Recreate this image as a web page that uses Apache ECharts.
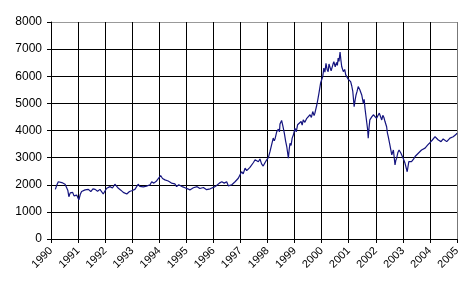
<!DOCTYPE html>
<html>
<head>
<meta charset="utf-8">
<script src="https://cdn.jsdelivr.net/npm/echarts@6/dist/echarts.min.js"></script>
<style>
html,body{margin:0;padding:0;background:#fff;}
#c{width:471px;height:292px;}
</style>
</head>
<body>
<div id="c"></div>
<script>
// Decimal years of the sampled points
const years = [
 1990.16,1990.22,1990.27,1990.33,1990.40,1990.46,1990.52,1990.58,1990.62,1990.66,1990.71,1990.76,1990.80,1990.85,1990.90,1990.95,
 1991.03,1991.08,1991.13,1991.20,1991.26,1991.32,1991.38,1991.47,1991.55,1991.63,1991.72,1991.81,1991.87,1991.93,
 1992.00,1992.06,1992.12,1992.18,1992.27,1992.36,1992.43,1992.49,1992.58,1992.67,1992.74,1992.80,1992.90,1992.98,
 1993.04,1993.10,1993.16,1993.22,1993.28,1993.35,1993.41,1993.47,1993.53,1993.59,1993.66,1993.72,1993.80,1993.90,1993.97,
 1994.05,1994.12,1994.17,1994.21,1994.27,1994.33,1994.40,1994.45,1994.52,1994.58,1994.64,1994.72,1994.79,1994.87,1994.95,
 1995.05,1995.13,1995.20,1995.26,1995.33,1995.40,1995.45,1995.50,1995.57,1995.63,1995.69,1995.75,1995.81,1995.88,1995.94,
 1996.04,1996.12,1996.17,1996.22,1996.31,1996.36,1996.40,1996.45,1996.49,1996.55,1996.62,1996.68,1996.74,1996.80,1996.86,1996.92,1996.98,
 1997.04,1997.10,1997.17,1997.23,1997.29,1997.35,1997.41,1997.48,1997.54,1997.60,1997.66,1997.72,1997.78,1997.84,1997.90,1997.97,
 1998.03,1998.09,1998.15,1998.21,1998.25,1998.28,1998.34,1998.40,1998.44,1998.46,1998.52,1998.57,1998.62,1998.67,1998.71,1998.77,1998.80,1998.83,1998.87,1998.91,1998.96,
 1999.01,1999.06,1999.11,1999.16,1999.24,1999.28,1999.32,1999.38,1999.45,1999.50,1999.57,1999.62,1999.67,1999.72,1999.75,1999.82,1999.86,1999.90,1999.96,
 2000.04,2000.08,2000.12,2000.16,2000.20,2000.24,2000.27,2000.31,2000.35,2000.39,2000.42,2000.45,2000.50,2000.55,2000.58,2000.61,2000.64,2000.68,2000.71,2000.74,2000.80,2000.85,2000.89,2000.94,2000.98,
 2001.03,2001.07,2001.11,2001.15,2001.20,2001.24,2001.27,2001.31,2001.35,2001.41,2001.48,2001.54,2001.57,2001.60,2001.66,2001.70,2001.72,2001.75,2001.78,2001.85,2001.91,2001.97,
 2002.03,2002.08,2002.13,2002.18,2002.22,2002.26,2002.30,2002.34,2002.40,2002.43,2002.46,2002.52,2002.56,2002.59,2002.65,2002.71,2002.74,2002.77,2002.82,2002.86,2002.93,2002.97,
 2003.01,2003.08,2003.12,2003.16,2003.22,2003.27,2003.32,2003.40,2003.45,2003.51,2003.57,2003.63,2003.69,2003.76,2003.82,2003.88,2003.92,
 2004.00,2004.09,2004.14,2004.19,2004.25,2004.31,2004.36,2004.41,2004.49,2004.55,2004.62,2004.68,2004.74,2004.80,2004.86,2004.92,2004.96,2005.00
];
// Index values
const values = [
 1830,2000,2110,2040,2080,2030,2020,2000,1800,1560,1700,1650,1720,1590,1650,1620,
 1440,1640,1750,1700,1810,1780,1830,1750,1850,1830,1760,1830,1780,1660,
 1780,1870,1850,1930,1880,2020,1960,1870,1800,1720,1760,1660,1750,1780,
 1740,1830,1900,2020,1940,1970,1920,1890,1950,2020,2000,2110,2060,2140,2200,
 2340,2230,2260,2180,2200,2140,2100,2060,2020,2030,1930,2000,1970,1920,1890,
 1850,1810,1870,1890,1920,1930,1880,1860,1890,1900,1850,1820,1780,1850,1890,
 1920,1970,2040,2060,2110,2080,2060,2090,2110,1960,1990,2000,2060,2110,2180,2240,2300,
 2480,2400,2610,2520,2550,2640,2690,2820,2920,2880,2850,2950,2770,2690,2800,2920,
 3000,3220,3150,3720,3620,3700,3960,4050,3950,4240,4370,4150,3900,3600,3410,2980,3300,3530,3450,3720,3850,
 4080,3950,4210,4150,4330,4200,4390,4300,4450,4380,4580,4480,4700,4550,4640,4940,5150,5380,5750,
 5990,6300,6150,6480,6250,6170,6450,6460,6200,6170,6450,6540,6350,6510,6400,6670,6550,6890,6600,6360,6170,6250,6050,6100,5890,
 5950,5800,5650,5440,4880,5150,5310,5450,5620,5500,5310,5000,5150,4820,4760,4020,3720,4100,4390,4500,4580,4620,
 4450,4550,4640,4500,4390,4560,4480,4330,4140,3900,3770,3470,3500,3100,3280,2730,2900,2980,3200,3280,3160,3100,
 2980,2790,2850,2480,2850,2780,2850,2950,3040,3100,3160,3200,3280,3300,3350,3400,3470,
 3550,3650,3700,3770,3700,3650,3720,3590,3690,3620,3590,3650,3720,3700,3770,3800,3850,3900
];
const yTicks = [0,1000,2000,3000,4000,5000,6000,7000,8000];
const xTickYears = [1990,1991,1992,1993,1994,1995,1996,1997,1998,1999,2000,2001,2002,2003,2004,2005];

const chart = echarts.init(document.getElementById('c'), null, {renderer:'canvas'});
const font = '"Liberation Sans", Arial, sans-serif';
const ySplitColors = yTicks.map((t,i)=> i===yTicks.length-1 ? '#999' : '#000');
const xSplitColors = xTickYears.map((t,i)=> i===xTickYears.length-1 ? '#777' : '#000');
chart.setOption({
  animation:false,
  backgroundColor:'#fff',
  grid:{left:51,right:14,top:22,bottom:53,containLabel:false},
  xAxis:{
    type:'value',min:xTickYears[0],max:xTickYears[xTickYears.length-1],interval:1,
    axisLine:{show:true,onZero:false,lineStyle:{color:'#000',width:1}},
    axisTick:{show:true,inside:false,length:4,lineStyle:{color:'#000'}},
    axisLabel:{rotate:45,margin:10,fontSize:11,color:'#000',fontFamily:font,formatter:v=>String(Math.round(v))},
    splitLine:{show:true,lineStyle:{color:xSplitColors,width:1}}
  },
  yAxis:{
    type:'value',min:yTicks[0],max:yTicks[yTicks.length-1],interval:1000,
    axisLine:{show:true,lineStyle:{color:'#000',width:1}},
    axisTick:{show:true,inside:false,length:4,lineStyle:{color:'#000'}},
    axisLabel:{margin:9,fontSize:12,color:'#000',fontFamily:font,formatter:v=>String(v)},
    splitLine:{show:true,lineStyle:{color:ySplitColors,width:1}}
  },
  series:[{
    type:'line',
    data:years.map((y,i)=>[y,values[i]]),
    showSymbol:false,
    lineStyle:{color:'#14147f',width:1.2},
    itemStyle:{color:'#14147f'}
  }]
});
</script>
</body>
</html>
